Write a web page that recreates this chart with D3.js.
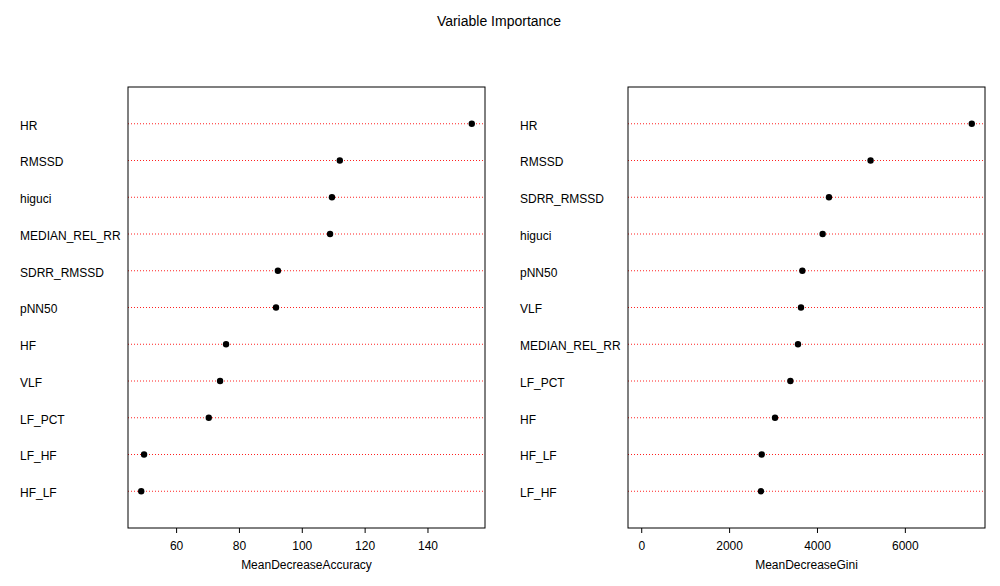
<!DOCTYPE html>
<html>
<head>
<meta charset="utf-8">
<script src="https://cdnjs.cloudflare.com/ajax/libs/d3/7.8.5/d3.min.js"></script>
<style>
  body { margin: 0; background: #fff; }
  text { font-family: "Liberation Sans", Arial, sans-serif; fill: #000; }
</style>
</head>
<body>
<div id="chart"></div>
<script>
var width = 1000,
    height = 586;

// Mean decrease in accuracy, sorted from top to bottom
var accVars = ["HR", "RMSSD", "higuci", "MEDIAN_REL_RR", "SDRR_RMSSD", "pNN50",
               "HF", "VLF", "LF_PCT", "LF_HF", "HF_LF"];
var accValues = [154.1, 112.1, 109.6, 109.0, 92.4, 91.8, 75.9, 74.0, 70.4, 49.8, 48.9];
var accTicks = [60, 80, 100, 120, 140];

// Mean decrease in Gini, sorted from top to bottom
var giniVars = ["HR", "RMSSD", "SDRR_RMSSD", "higuci", "pNN50", "VLF",
                "MEDIAN_REL_RR", "LF_PCT", "HF", "HF_LF", "LF_HF"];
var giniValues = [7523, 5220, 4273, 4129, 3667, 3636, 3568, 3395, 3045, 2742, 2727];
var giniTicks = [0, 2000, 4000, 6000];

var svg = d3.select("#chart").append("svg")
    .attr("width", width)
    .attr("height", height);

// main title
svg.append("text")
    .attr("x", 499)
    .attr("y", 26)
    .attr("text-anchor", "middle")
    .style("font-size", "14px")
    .text("Variable Importance");

// draws one dotchart panel
function panel(left, vars, values, ticks, xmin, title) {
    var top = 87, bottom = 528, right = left + 357;

    // 4% extension on each side like R does
    var lo = xmin, hi = d3.max(values);
    var pad = (hi - lo) * 0.04;
    var x = d3.scaleLinear().domain([lo - pad, hi + pad]).range([left, right]);

    // rows go from 1 (bottom) to n (top)
    var n = vars.length;
    var y = d3.scaleLinear().domain([0, n + 1]).range([bottom, top]);

    var g = svg.append("g");

    // dotted guide lines
    g.selectAll("line.guide")
        .data(values)
        .enter().append("line")
        .attr("class", "guide")
        .attr("x1", left)
        .attr("x2", right)
        .attr("y1", function(d, i) { return y(n - i); })
        .attr("y2", function(d, i) { return y(n - i); })
        .attr("stroke", "#ff2020")
        .attr("stroke-width", 1)
        .attr("stroke-dasharray", "1,2");

    // variable names
    g.selectAll("text.lab")
        .data(vars)
        .enter().append("text")
        .attr("class", "lab")
        .attr("x", left - 108)
        .attr("y", function(d, i) { return y(n - i); })
        .attr("dy", "0.48em")
        .style("font-size", "12px")
        .text(function(d) { return d; });

    // points
    g.selectAll("circle")
        .data(values)
        .enter().append("circle")
        .attr("cx", function(d) { return x(d); })
        .attr("cy", function(d, i) { return y(n - i); })
        .attr("r", 3.2)
        .attr("fill", "#000");

    // box
    g.append("rect")
        .attr("x", left)
        .attr("y", top)
        .attr("width", right - left)
        .attr("height", bottom - top)
        .attr("fill", "none")
        .attr("stroke", "#000")
        .attr("stroke-width", 1);

    // x axis
    var axis = d3.axisBottom(x)
        .tickValues(ticks)
        .tickSize(5)
        .tickPadding(8)
        .tickFormat(d3.format("d"));

    var ax = g.append("g")
        .attr("transform", "translate(0," + bottom + ")")
        .call(axis);
    ax.select(".domain").remove();
    ax.selectAll("text")
        .style("font-family", "'Liberation Sans', Arial, sans-serif")
        .style("font-size", "12px")
        .attr("fill", "#000");

    // axis title
    g.append("text")
        .attr("x", (left + right) / 2)
        .attr("y", 569)
        .attr("text-anchor", "middle")
        .style("font-size", "12px")
        .text(title);
}

panel(128, accVars, accValues, accTicks, d3.min(accValues), "MeanDecreaseAccuracy");
panel(628, giniVars, giniValues, giniTicks, 0, "MeanDecreaseGini");
</script>
</body>
</html>
